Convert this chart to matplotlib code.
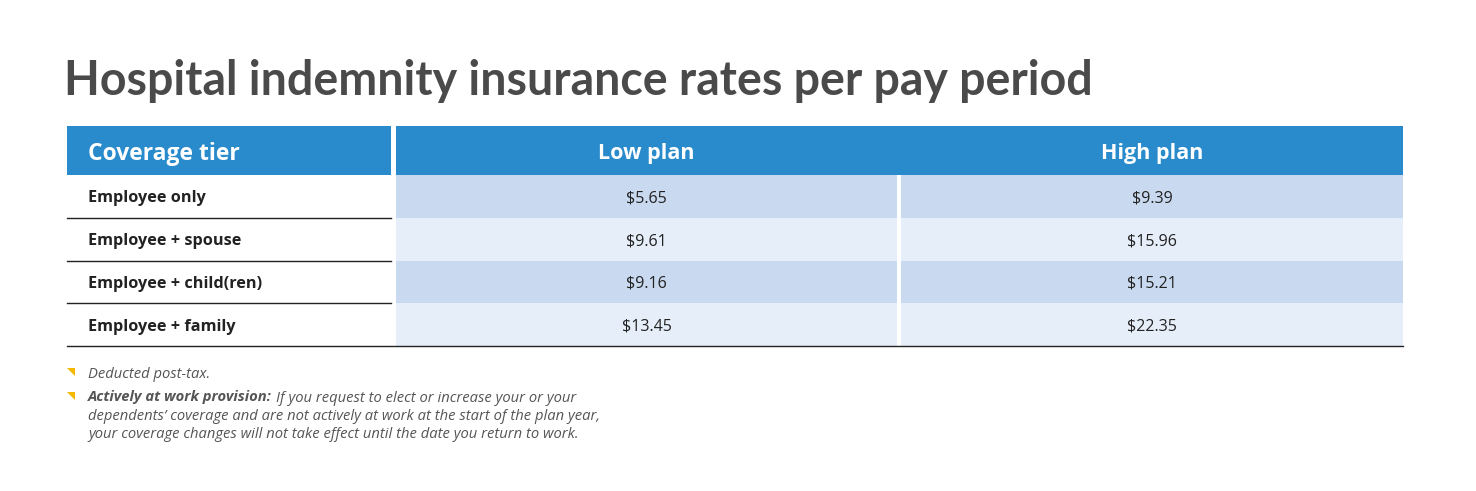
import matplotlib
matplotlib.use("Agg")
import matplotlib.pyplot as plt
from matplotlib.patches import Rectangle, Polygon

# ==================== DATA ====================
title = "Hospital indemnity insurance rates per pay period"
headers = ["Coverage tier", "Low plan", "High plan"]
tiers = ["Employee only", "Employee + spouse", "Employee + child(ren)", "Employee + family"]
low_plan = [5.65, 9.61, 9.16, 13.45]
high_plan = [9.39, 15.96, 15.21, 22.35]
notes = [
    ("", "Deducted post-tax."),
    ("Actively at work provision:",
     "If you request to elect or increase your or your\n"
     "dependents\u2019 coverage and are not actively at work at the start of the plan year,\n"
     "your coverage changes will not take effect until the date you return to work."),
]

# ==================== STYLE ====================
W, H = 1476, 491
blue = "#2a8bcc"
row_cols = ["#c9daf0", "#e6eff9"]
font = ["Open Sans", "DejaVu Sans"]

fig = plt.figure(figsize=(W / 100, H / 100), dpi=100)
ax = fig.add_axes([0, 0, 1, 1])
ax.set_xlim(0, W)
ax.set_ylim(H, 0)
ax.axis("off")

ax.text(64, 95, title, fontsize=33.5, fontweight="bold", color="#4a4a4a",
        family=["Lato", "DejaVu Sans"], va="baseline")

# column geometry (pixels)
x0, x_split, x_mid, x_end = 67, 391, 396, 1403
low_l, low_r, high_l = 396, 897, 901
head_top, head_bot = 126, 175
row_h = 42.75

# header
ax.add_patch(Rectangle((x0, head_top), x_split - x0, head_bot - head_top, color=blue, lw=0))
ax.add_patch(Rectangle((x_mid, head_top), x_end - x_mid, head_bot - head_top, color=blue, lw=0))
hy = (head_top + head_bot) / 2 + 1
ax.text(88, hy, headers[0], fontsize=16.5, fontweight="bold", color="white",
        family=font, va="center_baseline")
ax.text((low_l + low_r) / 2, hy, headers[1], fontsize=15.5, fontweight="bold",
        color="white", family=font, va="center_baseline", ha="center")
ax.text((high_l + x_end) / 2, hy, headers[2], fontsize=15.5, fontweight="bold",
        color="white", family=font, va="center_baseline", ha="center")

# body rows
for i, (tier, lo, hi) in enumerate(zip(tiers, low_plan, high_plan)):
    top = head_bot + i * row_h
    cy = top + row_h / 2
    c = row_cols[i % 2]
    ax.add_patch(Rectangle((low_l, top), low_r - low_l, row_h, color=c, lw=0))
    ax.add_patch(Rectangle((high_l, top), x_end - high_l, row_h, color=c, lw=0))
    ax.text(88, cy, tier, fontsize=11.7, fontweight="bold", color="#222222",
            family=font, va="center_baseline")
    ax.text((low_l + low_r) / 2, cy, f"${lo:.2f}", fontsize=11.5, color="#222222",
            family=font, va="center_baseline", ha="center")
    ax.text((high_l + x_end) / 2, cy, f"${hi:.2f}", fontsize=11.5, color="#222222",
            family=font, va="center_baseline", ha="center")
    bottom = top + row_h
    if i < len(tiers) - 1:
        ax.plot([x0, x_split], [bottom, bottom], color="#222222", lw=1)
    else:
        ax.plot([x0, x_end], [bottom, bottom], color="#222222", lw=1)

# footnotes
note_y = [372, 396]
fs_note = 10.6
for (bold, rest), y in zip(notes, note_y):
    ax.add_patch(Polygon([[67, y - 4], [75, y - 4], [75, y + 4]], closed=True,
                         color="#f5b800", lw=0))
    if bold:
        t = ax.text(88, y, bold, fontsize=fs_note, fontweight="bold", style="italic",
                    color="#555555", family=font, va="center_baseline")
        fig.canvas.draw()
        x_after = t.get_window_extent().x1 + 4
        lines = rest.split("\n")
        ax.text(x_after, y, lines[0], fontsize=fs_note, style="italic", color="#555555",
                family=font, va="center_baseline")
        for k, ln in enumerate(lines[1:]):
            ax.text(88, y + 18 * (k + 1), ln, fontsize=fs_note, style="italic",
                    color="#555555", family=font, va="center_baseline")
    else:
        ax.text(88, y, rest, fontsize=fs_note, style="italic", color="#555555",
                family=font, va="center_baseline")

fig.savefig("out.png", dpi=100)
